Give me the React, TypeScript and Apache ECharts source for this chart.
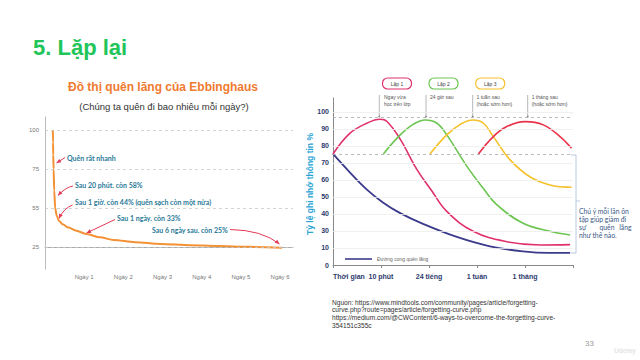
import React, { useEffect, useRef } from "react";
import * as echarts from "echarts";

// ---------- Left chart data (Ebbinghaus) ----------
const LEFT_DAY_LABELS = ["Ngày 1", "Ngày 2", "Ngày 3", "Ngày 4", "Ngày 5", "Ngày 6"];
const LEFT_Y_LEVELS = [25, 55, 75, 100];
const LEFT_CURVE_DAYS = [0.2, 0.205, 0.21, 0.22, 0.235, 0.26, 0.3, 0.36, 0.45, 0.6, 0.8, 1.07, 1.4, 1.75, 2.3, 2.95, 3.7, 4.4, 5.2, 6.05];
const LEFT_CURVE_PCT = [100, 92, 84, 75, 64, 55, 49, 45, 42.5, 40, 37.5, 35, 32.5, 30.5, 28.8, 27.4, 26.5, 25.8, 25.2, 24.5];

// ---------- Right chart data (review curves) ----------
const RIGHT_X_LABELS = ["Thời gian", "10 phút", "24 tiếng", "1 tuần", "1 tháng"];
const RIGHT_Y_LABELS = ["0", "10", "30", "40", "50", "60", "70", "80", "90", "100"];
const FORGET_X = [0, 0.35, 0.7, 1.04, 1.4, 1.875, 2.58, 3.27, 3.96, 4.5, 4.94];
const FORGET_Y = [65.3, 54.5, 44.5, 36.8, 30.5, 24.2, 16.5, 11.0, 8.0, 7.1, 7.1];
const REVIEW1_X = [0, 0.35, 0.7, 0.98, 1.12, 1.4, 1.74, 2.06, 2.37, 2.92, 3.62, 4.31, 4.94];
const REVIEW1_Y = [65.3, 77.4, 83.3, 85.7, 84.5, 74.0, 56.5, 43.5, 31.5, 19.8, 13.7, 11.8, 12.0];
const REVIEW2_X = [1.05, 1.4, 1.67, 1.92, 2.16, 2.37, 2.79, 3.13, 3.41, 3.96, 4.52, 4.94];
const REVIEW2_Y = [65.3, 76.5, 82.7, 85.3, 83.5, 76.5, 58.0, 45.1, 35.5, 24.5, 19.8, 17.6];
const REVIEW3_X = [2.02, 2.37, 2.65, 2.91, 3.13, 3.34, 3.69, 4.1, 4.52, 4.97];
const REVIEW3_Y = [65.3, 76.5, 82.7, 85.3, 83.5, 75.5, 61.8, 51.9, 47.1, 45.7];
const REVIEW4_X = [3.03, 3.34, 3.62, 4.0, 4.38, 4.73, 4.97];
const REVIEW4_Y = [65.3, 75.5, 81.4, 84.3, 82.4, 75.5, 68.6];
const RIGHT_DASHED = [86.6, 65.1];

const SANS = "'Liberation Sans', Arial, sans-serif";
const ROUND = "Lato, 'Noto Sans', sans-serif";

function toLevel(p: number): number {
  const L = LEFT_Y_LEVELS;
  if (p <= L[1]) return (p - L[0]) / (L[1] - L[0]);
  for (let i = 1; i < L.length - 1; i++) {
    if (p <= L[i + 1]) return i + (p - L[i]) / (L[i + 1] - L[i]);
  }
  return L.length - 1;
}

function zipPts(xs: number[], ys: number[]) {
  return xs.map((x, i) => [x, ys[i]]);
}

function arrow(x1: number, y1: number, x2: number, y2: number, color: string, cx?: number, cy?: number) {
  const els: any[] = [];
  const fx = cx !== undefined ? cx : x1;
  const fy = cy !== undefined ? cy : y1;
  if (cx !== undefined) {
    els.push({ type: "bezierCurve", shape: { x1, y1, x2, y2, cpx1: cx, cpy1: cy }, style: { stroke: color, lineWidth: 1, fill: null } });
  } else {
    els.push({ type: "line", shape: { x1, y1, x2, y2 }, style: { stroke: color, lineWidth: 1 } });
  }
  const dx = x2 - fx, dy = y2 - fy;
  const len = Math.sqrt(dx * dx + dy * dy) || 1;
  const ux = dx / len, uy = dy / len;
  const hl = 4.5, hw = 2;
  const bx = x2 - ux * hl, by = y2 - uy * hl;
  els.push({
    type: "polygon",
    shape: { points: [[x2, y2], [bx - uy * hw, by + ux * hw], [bx + uy * hw, by - ux * hw]] },
    style: { fill: color },
  });
  return els;
}

function txt(x: number, y: number, text: string, size: number, fill: string, opts: any = {}) {
  return {
    type: "text",
    x,
    y,
    rotation: opts.rotation || 0,
    style: {
      text,
      fontSize: size,
      fontFamily: opts.family || SANS,
      fontWeight: opts.weight || "normal",
      fill,
      align: opts.align || "left",
      verticalAlign: "middle",
      textAlign: opts.align || "left",
      textVerticalAlign: "middle",
    },
  };
}

export default function App() {
  const ref = useRef<HTMLDivElement>(null);
  useEffect(() => {
    if (!ref.current) return;
    const chart = echarts.init(ref.current, null, { renderer: "svg" });

    const teal = "#2a7a98";
    const red = "#e23a55";
    const graphic: any[] = [
      txt(33, 47, "5. Lặp lại", 22, "#22c55a", { weight: "bold" }),
      txt(163, 87, "Đồ thị quên lãng của Ebbinghaus", 12, "#f07a30", { weight: "bold", align: "center" }),
      txt(164, 106, "(Chúng ta quên đi bao nhiêu mỗi ngày?)", 9.5, "#333", { align: "center" }),
      // left annotations
      txt(67, 158, "Quên rất nhanh", 7, teal, { weight: "bold", family: ROUND }),
      txt(75, 185, "Sau 20 phút. còn 58%", 7, teal, { weight: "bold", family: ROUND }),
      txt(75, 201.5, "Sau 1 giờ. còn 44% (quên sạch còn một nửa)", 7, teal, { weight: "bold", family: ROUND }),
      txt(117, 218, "Sau 1 ngày. còn 33%", 7, teal, { weight: "bold", family: ROUND }),
      txt(152, 230, "Sau 6 ngày sau. còn 25%", 7, teal, { weight: "bold", family: ROUND }),
      ...arrow(65, 157.5, 56.5, 163, red),
      ...arrow(73, 186, 58, 195.5, red, 66, 187),
      ...arrow(72.5, 205, 59, 218.5, red, 64, 208),
      ...arrow(115, 219.5, 86.5, 233, red),
      ...arrow(230, 229.5, 279.5, 244, red, 262, 230),
      // right: y axis name
      txt(310, 184, "Tỷ lệ ghi nhớ thông tin %", 8.5, "#2aa4d5", { weight: "bold", align: "center", rotation: Math.PI / 2 }),
      // review boxes
      { type: "rect", shape: { x: 382.5, y: 78, width: 29, height: 11, r: 5 }, style: { fill: "#fff", stroke: "#e0306e", lineWidth: 1.2 } },
      txt(397, 83.5, "Lặp 1", 5, "#444", { align: "center" }),
      { type: "rect", shape: { x: 429, y: 78, width: 29, height: 11, r: 5 }, style: { fill: "#fff", stroke: "#6cc551", lineWidth: 1.2 } },
      txt(443.5, 83.5, "Lặp 2", 5, "#444", { align: "center" }),
      { type: "rect", shape: { x: 475.7, y: 78, width: 29, height: 11, r: 5 }, style: { fill: "#fff", stroke: "#f5c02a", lineWidth: 1.2 } },
      txt(490.2, 83.5, "Lặp 3", 5, "#444", { align: "center" }),
      // annotation pointers
      ...[379.3, 426, 472.7, 527.7].flatMap((x) => [
        { type: "line", shape: { x1: x, y1: 95, x2: x, y2: 116.5 }, style: { stroke: "#999", lineWidth: 0.7 } },
        { type: "circle", shape: { cx: x, cy: 116.5, r: 0.9 }, style: { fill: "#888" } },
      ]),
      txt(384, 96.7, "Ngay vừa", 5, "#555"),
      txt(384, 104, "học trên lớp", 5, "#555"),
      txt(430, 96.7, "24 giờ sau", 5, "#555"),
      txt(476.5, 96.7, "1 tuần sau", 5, "#555"),
      txt(476.5, 104, "(hoặc sớm hơn)", 5, "#555"),
      txt(531.7, 96.7, "1 tháng sau", 5, "#555"),
      txt(531.7, 104, "(hoặc sớm hơn)", 5, "#555"),
      // legend
      { type: "line", shape: { x1: 345, y1: 259, x2: 372, y2: 259 }, style: { stroke: "#3b3a8c", lineWidth: 1.6 } },
      txt(377, 259, "Đường cong quên lãng", 5, "#666"),
      // bracket
      { type: "polyline", shape: { points: [[571, 155], [576, 155], [576, 253], [571, 253]] }, style: { stroke: "#a8bfd8", lineWidth: 0.8, fill: null } },
      { type: "line", shape: { x1: 576, y1: 201, x2: 580, y2: 201 }, style: { stroke: "#a8bfd8", lineWidth: 0.8 } },
      txt(579, 211, "Chú ý mỗi lần ôn", 6.8, "#3b5a86", { family: ROUND }),
      txt(579, 219, "tập giúp giảm đi", 6.8, "#3b5a86", { family: ROUND }),
      txt(579, 227, "sự", 6.8, "#3b5a86", { family: ROUND }),
      txt(599.5, 227, "quên", 6.8, "#3b5a86", { family: ROUND }),
      txt(631.5, 227, "lãng", 6.8, "#3b5a86", { family: ROUND, align: "right" }),
      txt(579, 235, "như thế nào.", 6.8, "#3b5a86", { family: ROUND }),
      // source
      txt(332, 302, "Nguồn: https://www.mindtools.com/community/pages/article/forgetting-", 6.6, "#333"),
      txt(332, 309.5, "curve.php?route=pages/article/forgetting-curve.php", 6.6, "#333"),
      txt(332, 317.3, "https://medium.com/@CWContent/6-ways-to-overcome-the-forgetting-curve-", 6.6, "#333"),
      txt(332, 325, "354151c355c", 6.6, "#333"),
      txt(585, 343, "33", 8, "#9a9a9a"),
      txt(614, 350, "Udemy", 6.5, "#e4e4e4", { weight: "bold" }),
    ];

    const mark = (extra: any) => ({
      silent: true,
      symbol: ["none", "none"],
      label: { show: false },
      ...extra,
    });

    const curve = (xs: number[], ys: number[], color: string, width: number, z: number, extra: any = {}) => ({
      type: "line",
      xAxisIndex: 1,
      yAxisIndex: 1,
      data: zipPts(xs, ys),
      smooth: 0.4,
      showSymbol: false,
      lineStyle: { color, width },
      z,
      ...extra,
    });

    const option: any = {
      animation: false,
      backgroundColor: "#ffffff",
      grid: [
        { left: 45, top: 117, right: 347, bottom: 91 },
        { left: 333, top: 98, right: 67, bottom: 95 },
      ],
      xAxis: [
        {
          type: "value",
          gridIndex: 0,
          min: 0,
          max: 6.33,
          interval: 1,
          axisLine: { show: true, lineStyle: { color: "#aaa", width: 1 } },
          axisTick: { show: false },
          splitLine: { show: false },
          axisLabel: {
            fontSize: 6,
            color: "#777",
            margin: 5,
            showMaxLabel: false,
            formatter: (v: number) => (v >= 1 && v <= 6 ? LEFT_DAY_LABELS[v - 1] : ""),
          },
        },
        {
          type: "value",
          gridIndex: 1,
          min: 0,
          max: 5,
          interval: 1,
          axisLine: { show: true, lineStyle: { color: "#888", width: 1 } },
          axisTick: { show: true, length: 3, lineStyle: { color: "#888" } },
          splitLine: { show: false },
          axisLabel: {
            fontSize: 7,
            fontWeight: "bold",
            color: "#2d3a6e",
            margin: 8,
            alignMinLabel: "left",
            formatter: (v: number) => RIGHT_X_LABELS[v] ?? "",
          },
        },
      ],
      yAxis: [
        {
          type: "value",
          gridIndex: 0,
          min: -0.56,
          max: 3.33,
          axisLine: { show: true, lineStyle: { color: "#bbb", width: 1 } },
          axisTick: { show: false },
          splitLine: { show: false },
          axisLabel: {
            customValues: [0, 1, 2, 3],
            fontSize: 6,
            color: "#777",
            margin: 6,
            formatter: (v: number) => String(LEFT_Y_LEVELS[Math.round(v)] ?? ""),
          },
        },
        {
          type: "value",
          gridIndex: 1,
          min: 0,
          max: 98.2,
          interval: 10,
          axisLine: { show: true, lineStyle: { color: "#888", width: 1 } },
          axisTick: { show: false },
          splitLine: { show: false },
          axisLabel: {
            fontSize: 7,
            fontWeight: "bold",
            color: "#2d3a6e",
            margin: 4,
            showMaxLabel: false,
            formatter: (v: number) => RIGHT_Y_LABELS[Math.round(v / 10)] ?? "",
          },
        },
      ],
      series: [
        {
          type: "line",
          xAxisIndex: 0,
          yAxisIndex: 0,
          data: LEFT_CURVE_DAYS.map((d, i) => [d, toLevel(LEFT_CURVE_PCT[i])]),
          smooth: 0.3,
          smoothMonotone: "x",
          showSymbol: false,
          lineStyle: { color: "#f39134", width: 2 },
          markLine: mark({
            lineStyle: { color: "#c8c8c8", type: [3, 3], width: 0.8 },
            data: LEFT_Y_LEVELS.map((_, i) => ({ yAxis: i })),
          }),
          z: 3,
        },
        curve(FORGET_X, FORGET_Y, "#3b3a8c", 1.8, 3, {
          markLine: mark({
            lineStyle: { color: "#ececec", type: "solid", width: 0.8 },
            data: [10, 20, 30, 40, 50, 60, 70, 80, 90].map((y) => ({ yAxis: y })),
          }),
        }),
        curve(REVIEW1_X, REVIEW1_Y, "#e0306e", 1.6, 4, {
          markLine: mark({
            lineStyle: { color: "#aaa", type: [3, 3], width: 0.8 },
            data: RIGHT_DASHED.map((y) => ({ yAxis: y })),
          }),
        }),
        curve(REVIEW2_X, REVIEW2_Y, "#6cc551", 1.6, 4),
        curve(REVIEW3_X, REVIEW3_Y, "#f5c02a", 1.6, 4),
        curve(REVIEW4_X, REVIEW4_Y, "#e8334a", 1.6, 4),
      ],
      graphic,
    };
    chart.setOption(option);
    return () => chart.dispose();
  }, []);

  return (
    <div
      ref={ref}
      style={{ position: "fixed", left: 0, top: 0, width: 640, height: 360, background: "#fff" }}
    />
  );
}
